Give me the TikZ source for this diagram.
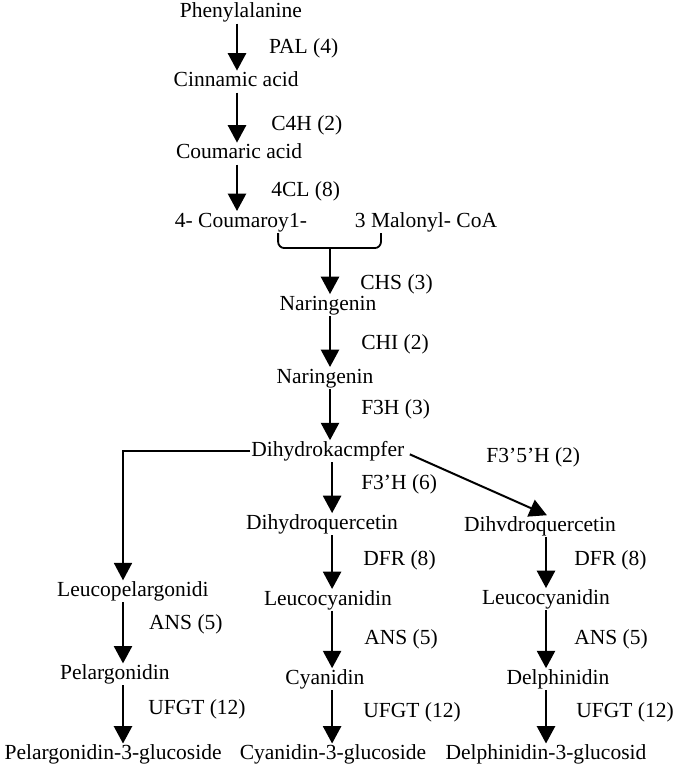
\documentclass[tikz,border=0pt]{standalone}
\usepackage{fontspec}
\setmainfont{Liberation Serif}
\usepackage{tikz}
\usetikzlibrary{arrows.meta}

\begin{document}
\begin{tikzpicture}[
        chem/.style={inner sep=1pt, text height=14.3pt, text depth=4.1pt, font=\fontsize{20.4}{24}\selectfont},
        enz/.style={chem, anchor=west},
        arrow/.style={-{Triangle[length=0.58cm, width=0.6cm]}, line width=2.4pt},
        link/.style={line width=1.7pt}
    ]
    \useasboundingbox (0,0) rectangle (22.5,25.7);

    % Main chain
    \node[chem] (phe) at (8.03, 25.28) {Phenylalanine};
    \node[chem] (cin) at (7.87, 22.98) {Cinnamic acid};
    \node[chem] (cou) at (7.97, 20.58) {Coumaric acid};
    \node[chem] (cmr) at (8.03, 18.3) {4- Coumaroy1-};
    \node[chem] (mal) at (14.2, 18.3) {3 Malonyl- CoA};
    \node[chem] (nar1) at (10.93, 15.53) {Naringenin};
    \node[chem] (nar2) at (10.83, 13.1) {Naringenin};
    \node[chem] (dhk) at (10.93, 10.66) {Dihydrokacmpfer};

    % Three branches
    \node[chem] (lpg) at (4.43, 5.99) {Leucopelargonidi};
    \node[chem] (pel) at (3.83, 3.22) {Pelargonidin};
    \node[chem] (pg3) at (3.77, 0.55) {Pelargonidin-3-glucoside};

    \node[chem] (dhq) at (10.73, 8.23) {Dihydroquercetin};
    \node[chem] (lcy) at (10.93, 5.7) {Leucocyanidin};
    \node[chem] (cya) at (10.83, 3.06) {Cyanidin};
    \node[chem] (cy3) at (11.1, 0.55) {Cyanidin-3-glucoside};

    \node[chem] (dhq2) at (18.0, 8.16) {Dihvdroquercetin};
    \node[chem] (lcy2) at (18.2, 5.73) {Leucocyanidin};
    \node[chem] (del) at (18.6, 3.06) {Delphinidin};
    \node[chem] (dp3) at (18.2, 0.55) {Delphinidin-3-glucosid};

    % Enzymes
    \node[enz] (pal) at (8.93, 24.1) {PAL (4)};
    \node[enz] (c4h) at (9.0, 21.53) {C4H (2)};
    \node[enz] (fcl) at (9.0, 19.33) {4CL (8)};
    \node[enz] (chs) at (11.97, 16.23) {CHS (3)};
    \node[enz] (chi) at (12.0, 14.23) {CHI (2)};
    \node[enz] (fth) at (12.0, 12.06) {F3H (3)};
    \node[enz] (ftfh) at (16.17, 10.46) {F3'5'H (2)};
    \node[enz] (fpth) at (12.0, 9.56) {F3'H (6)};
    \node[enz] (dfr1) at (12.07, 7.03) {DFR (8)};
    \node[enz] (dfr2) at (19.1, 7.03) {DFR (8)};
    \node[enz] (ans1) at (4.93, 4.9) {ANS (5)};
    \node[enz] (ans2) at (12.1, 4.4) {ANS (5)};
    \node[enz] (ans3) at (19.1, 4.4) {ANS (5)};
    \node[enz] (ufgt1) at (4.9, 2.06) {UFGT (12)};
    \node[enz] (ufgt2) at (12.07, 1.96) {UFGT (12)};
    \node[enz] (ufgt3) at (19.17, 1.96) {UFGT (12)};

    % Columns and bracket
    \coordinate (top) at (7.9, 0);
    \coordinate (colA) at (4.1, 0);
    \coordinate (colB) at (11.07, 0);
    \coordinate (colC) at (18.2, 0);
    \coordinate (brL) at (9.27, 17.93);
    \coordinate (brM) at (11.0, 17.43);
    \coordinate (brR) at (12.7, 17.93);

    % Arrows
    \draw[arrow] (phe.south -| top) -- (cin.north -| top);
    \draw[arrow] (cin.south -| top) -- (cou.north -| top);
    \draw[arrow] (cou.south -| top) -- (cmr.north -| top);
    \draw[link, rounded corners=6pt] (brL) |- (brM) -| (brR);
    \draw[arrow] (brM) -- (brM |- nar1.north);
    \draw[arrow] (nar1.south -| brM) -- (nar2.north -| brM);
    \draw[arrow] (nar2.south -| brM) -- (dhk.north -| brM);

    \draw[arrow, line width=1.7pt] (dhk.west) -| (lpg.north -| colA);
    \draw[arrow] (dhk.south -| colB) -- (dhq.north -| colB);
    \draw[arrow, line width=1.9pt] ([xshift=4pt, yshift=-3pt]dhk.east) -- ([xshift=0.23cm]dhq2.north);

    \draw[arrow] (lpg.south -| colA) -- (pel.north -| colA);
    \draw[arrow] (pel.south -| colA) -- (pg3.north -| colA);
    \draw[arrow] (dhq.south -| colB) -- (lcy.north -| colB);
    \draw[arrow] (lcy.south -| colB) -- (cya.north -| colB);
    \draw[arrow] (cya.south -| colB) -- (cy3.north -| colB);
    \draw[arrow] (dhq2.south -| colC) -- (lcy2.north -| colC);
    \draw[arrow] (lcy2.south -| colC) -- (del.north -| colC);
    \draw[arrow] (del.south -| colC) -- (dp3.north -| colC);

\end{tikzpicture}
\end{document}
